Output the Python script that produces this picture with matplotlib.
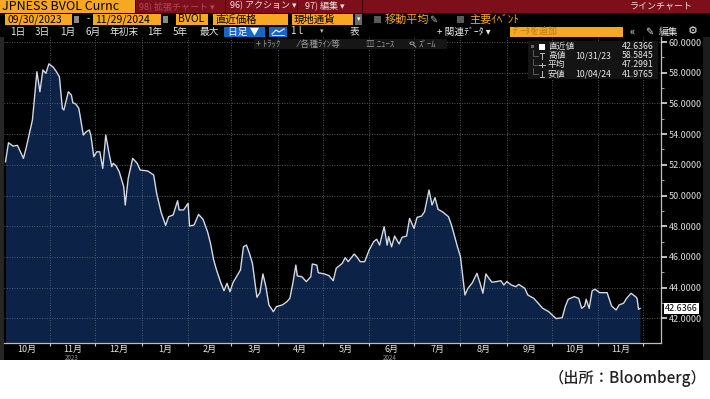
import matplotlib.pyplot as plt
import matplotlib.patches as mpatches
import matplotlib.lines as mlines
import numpy as np
import pandas as pd

plt.rcParams['font.family'] = ['Noto Sans CJK JP', 'DejaVu Sans']

# JPNESS BVOL Curncy, daily close
dates = [
    '2023-10-02', '2023-10-04', '2023-10-07', '2023-10-10', '2023-10-14', '2023-10-16', '2023-10-20',
    '2023-10-23', '2023-10-25', '2023-10-27', '2023-10-29', '2023-10-31', '2023-11-03', '2023-11-05',
    '2023-11-07', '2023-11-09', '2023-11-10', '2023-11-13', '2023-11-15', '2023-11-16', '2023-11-18',
    '2023-11-20', '2023-11-23', '2023-11-25', '2023-11-27', '2023-11-28', '2023-11-30', '2023-12-02',
    '2023-12-04', '2023-12-06', '2023-12-08', '2023-12-10', '2023-12-12', '2023-12-13', '2023-12-15',
    '2023-12-17', '2023-12-20', '2023-12-21', '2023-12-23', '2023-12-26', '2023-12-29', '2023-12-31',
    '2024-01-05', '2024-01-09', '2024-01-11', '2024-01-14', '2024-01-17', '2024-01-19', '2024-01-22',
    '2024-01-25', '2024-01-26', '2024-01-29', '2024-02-01', '2024-02-02', '2024-02-05', '2024-02-08',
    '2024-02-11', '2024-02-14', '2024-02-16', '2024-02-18', '2024-02-20', '2024-02-23', '2024-02-25',
    '2024-02-27', '2024-02-29', '2024-03-02', '2024-03-05', '2024-03-07', '2024-03-09', '2024-03-11',
    '2024-03-13', '2024-03-15', '2024-03-18', '2024-03-20', '2024-03-22', '2024-03-24', '2024-03-26',
    '2024-03-29', '2024-03-31', '2024-04-04', '2024-04-07', '2024-04-09', '2024-04-11', '2024-04-13',
    '2024-04-14', '2024-04-17', '2024-04-20', '2024-04-23', '2024-04-24', '2024-04-27', '2024-04-28',
    '2024-05-02', '2024-05-05', '2024-05-08', '2024-05-10', '2024-05-14', '2024-05-16', '2024-05-18',
    '2024-05-22', '2024-05-24', '2024-05-26', '2024-05-29', '2024-06-01', '2024-06-04', '2024-06-06',
    '2024-06-08', '2024-06-11', '2024-06-13', '2024-06-14', '2024-06-16', '2024-06-18', '2024-06-21',
    '2024-06-23', '2024-06-26', '2024-06-28', '2024-07-01', '2024-07-03', '2024-07-06', '2024-07-08',
    '2024-07-11', '2024-07-13', '2024-07-15', '2024-07-17', '2024-07-20', '2024-07-24', '2024-07-26',
    '2024-07-30', '2024-08-01', '2024-08-04', '2024-08-06', '2024-08-09', '2024-08-12', '2024-08-14',
    '2024-08-16', '2024-08-18', '2024-08-20', '2024-08-22', '2024-08-25', '2024-08-28', '2024-08-30',
    '2024-09-01', '2024-09-04', '2024-09-07', '2024-09-09', '2024-09-13', '2024-09-15', '2024-09-19',
    '2024-09-22', '2024-09-25', '2024-09-29', '2024-10-02', '2024-10-04', '2024-10-08', '2024-10-10',
    '2024-10-12', '2024-10-16', '2024-10-19', '2024-10-21', '2024-10-23', '2024-10-24', '2024-10-26',
    '2024-10-28', '2024-10-30', '2024-11-02', '2024-11-07', '2024-11-10', '2024-11-13', '2024-11-15',
    '2024-11-18', '2024-11-20', '2024-11-23', '2024-11-26', '2024-11-27', '2024-11-28', '2024-11-29',
]
values = [
    52.20, 53.44, 53.22, 53.27, 52.42, 53.18, 54.92,
    58.07, 56.76, 58.18, 57.96, 58.58, 58.35, 58.07,
    57.74, 55.68, 55.57, 56.76, 56.55, 56.05, 55.96,
    55.68, 53.94, 54.16, 54.27, 53.94, 52.53, 52.85,
    52.85, 51.77, 53.94, 52.85, 51.88, 52.10, 51.92,
    51.55, 50.57, 49.38, 51.12, 52.42, 52.10, 51.66,
    51.60, 51.34, 50.14, 48.90, 48.05, 48.62, 48.73,
    49.66, 49.06, 49.06, 49.49, 48.01, 48.08, 48.77,
    48.45, 47.64, 46.88, 45.84, 45.15, 44.28, 43.80,
    44.28, 43.73, 44.32, 44.82, 45.15, 46.66, 46.77,
    46.23, 45.58, 43.37, 43.67, 44.89, 44.06, 42.87,
    42.43, 42.76, 42.87, 43.08, 43.30, 44.28, 45.47,
    44.76, 44.71, 44.39, 44.71, 45.54, 45.47, 44.97,
    44.89, 44.79, 44.45, 45.26, 45.58, 45.95, 45.69,
    46.19, 45.97, 45.69, 45.69, 46.45, 46.99, 47.15,
    46.77, 47.97, 46.77, 47.32, 46.66, 47.36, 46.84,
    47.28, 47.36, 48.51, 47.86, 48.58, 48.66, 48.94,
    50.36, 49.38, 49.86, 49.10, 48.94, 48.62, 48.08,
    46.66, 46.01, 43.52, 43.95, 44.32, 44.93, 44.32,
    43.63, 44.89, 44.61, 44.35, 44.39, 44.45, 44.17,
    44.39, 44.17, 44.06, 44.21, 43.95, 43.52, 43.30,
    42.98, 42.65, 42.43, 42.15, 41.98, 42.04, 42.76,
    43.24, 43.41, 43.30, 42.65, 42.80, 43.24, 42.65,
    43.80, 43.89, 43.67, 43.67, 42.80, 42.54, 42.87,
    42.98, 43.30, 43.63, 43.41, 43.30, 42.59, 42.64,
]

month_labels = ['10月', '11月', '12月', '1月', '2月', '3月', '4月', '5月',
                '6月', '7月', '8月', '9月', '10月', '11月']
year_labels = ['2023', '2024']
year_dates = ['2023-11-15', '2024-06-15']
yticks = np.arange(42, 61, 2)

legend_names = ['直近値', '高値', '平均', '安値']
legend_dates = ['', '10/31/23', '', '10/04/24']
legend_values = ['42.6366', '58.5845', '47.2991', '41.9765']
last_label = '42.6366'

W, H = 710, 399
ORANGE = '#f7a823'
RED = '#7c0f1a'

fig = plt.figure(figsize=(7.1, 3.99), dpi=100, facecolor='white')


def box(x0, y0, x1, y1, color, z=0):
    fig.add_artist(mpatches.Rectangle((x0 / W, 1 - y1 / H), (x1 - x0) / W, (y1 - y0) / H,
                                      transform=fig.transFigure, facecolor=color,
                                      edgecolor='none', zorder=z))


def seg(xs, ys, color, lw=0.8, z=6):
    fig.add_artist(mlines.Line2D([v / W for v in xs], [1 - v / H for v in ys],
                                 transform=fig.transFigure, color=color, lw=lw, zorder=z))


def label(x, y, s, color='#e6e6e6', size=7.5, ha='left', **kw):
    fig.text(x / W, 1 - y / H, s, color=color, fontsize=size, ha=ha, va='center', **kw)


# terminal background
box(0, 0, 710, 360, 'black')
box(0, 37, 4, 360, '#262626')
box(703, 37, 710, 360, '#1c1c1c')

# row 1: ticker and red menu bar
box(0, 0, 135, 12.5, ORANGE)
label(2, 6, 'JPNESS BVOL Curnc', color='black', size=9)
box(136, 0, 710, 12.5, RED)
for xs in [225, 297, 362]:
    box(xs, 0, xs + 1.2, 12.5, '#3a0308')
label(139, 6, '98) 拡張チャート ▾', color='#b04a5c', size=6.5)
label(230, 6, '96) アクション ▾', color='#f0e0e0', size=6.5)
label(305, 6, '97) 編集 ▾', color='#f0e0e0', size=6.5)
label(693, 6, 'ラインチャート', color='#f0e0e0', size=6.5, ha='right')

# row 2: date range and fields
for x0, x1, s in [(5, 72, '09/30/2023'), (93, 161, '11/29/2024'), (176, 208, 'BVOL'),
                  (213, 288, '直近価格'), (292, 353, '現地通貨')]:
    box(x0, 14, x1, 25, ORANGE)
    label(x0 + 2, 19.5, s, color='black', size=7.5)
box(74, 16, 79, 23, '#8a8a8a')
box(163, 16, 168, 23, '#8a8a8a')
label(87, 19.5, '-', color='#cccccc', size=7)
box(355, 14, 362, 25, '#6a6a6a')
label(358.5, 19.5, '▾', color='white', size=5, ha='center')
box(374, 16, 381, 23, '#5a5a5a')
label(385, 19.5, '移動平均', color=ORANGE, size=8)
label(429, 19.5, '✎', color='#bbbbbb', size=7)
box(457, 16, 464, 23, '#5a5a5a')
label(469, 19.5, '主要ｲﾍﾞﾝﾄ', color=ORANGE, size=8)

# row 3: period buttons and tools
for x, s in [(10, '1日'), (35, '3日'), (60, '1月'), (85, '6月'), (110, '年初末'),
             (147, '1年'), (173, '5年'), (200, '最大')]:
    label(x, 31.5, s, size=7)
box(224, 26.5, 265, 36.5, '#1767c4')
label(228, 31.5, '日足 ▼', color='white', size=7)
box(269, 26.5, 287, 36.5, '#1767c4')
seg([272, 276, 279, 284], [34, 30, 32, 29], 'white', lw=0.8)
seg([272, 284], [35, 35], 'white', lw=0.6)
label(290, 31.5, '1ｌ', size=7)
label(320, 31.5, '▾', color='#bbbbbb', size=5)
label(350, 31.5, '表', size=7)
label(437, 31.5, '+ 関連ﾃﾞｰﾀ ▾', size=7)
box(510, 26.5, 623, 36.5, ORANGE)
label(513, 31.5, 'ﾃﾞｰﾀを追加', color='#b87a10', size=6.5)
label(630, 31.5, '«', size=8)
label(645, 31.5, '✎', size=7)
label(659, 31.5, '編集', size=7)
label(688, 31.5, '⚙', size=8)

# row 4: chart tool strip
box(254, 39, 447, 49, '#161616', z=5)
label(256, 44, '+ ﾄﾗｯｸ', color='#9a9a9a', size=6.3, zorder=6)
label(298, 44, '⁄ 各種ﾗｲﾝ等', color='#9a9a9a', size=6.3, zorder=6)
label(366, 44, '▥ ﾆｭｰｽ', color='#9a9a9a', size=6.3, zorder=6)
fig.add_artist(mpatches.Circle((412 / W, 1 - 43.3 / H), 2.2 / W, transform=fig.transFigure,
                               fill=False, edgecolor='#9a9a9a', lw=0.7, zorder=6))
seg([413.6, 415.5], [45, 47], '#9a9a9a', lw=0.8)
label(419, 44, 'ｽﾞｰﾑ', color='#9a9a9a', size=6.3, zorder=6)

# main chart
x = pd.to_datetime(dates)
ax = fig.add_axes([4 / W, 1 - 343 / H, 657 / W, 306 / H])
ax.set_facecolor('black')
ymin, ymax = 40.39, 60.33
ax.fill_between(x, values, ymin, color='#0c2347', lw=0, zorder=1)
ax.plot(x, values, color='#d3dae3', lw=1.0, zorder=3)
ax.set_xlim(pd.Timestamp('2023-10-01'), pd.Timestamp('2024-12-13'))
ax.set_ylim(ymin, ymax)

months = pd.date_range('2023-10-01', '2024-12-01', freq='MS')
mids = months[:-1] + (months[1:] - months[:-1]) / 2
ax.set_xticks(months[1:])
ax.set_xticklabels([])
ax.set_xticks(mids, minor=True)
ax.set_xticklabels(month_labels, minor=True)
ax.tick_params(axis='x', which='major', length=2, color='#cfcfcf', direction='out')
ax.tick_params(axis='x', which='minor', length=0, pad=1.5, labelsize=6.5, labelcolor='#e6e6e6')

ax.yaxis.tick_right()
ax.set_yticks(yticks)
ax.set_yticklabels([f'{v:.4f}' for v in yticks])
ax.set_yticks(yticks[:-1] + 1, minor=True)
ax.tick_params(axis='y', which='major', length=4, width=1.2, color='#e0e0e0', pad=1.5,
               labelsize=6.5, labelcolor='#dedede')
ax.tick_params(axis='y', which='minor', length=2, color='#bdbdbd')

for side in ['top', 'left']:
    ax.spines[side].set_visible(False)
for side in ['right', 'bottom']:
    ax.spines[side].set_color('#bdbdbd')
    ax.spines[side].set_linewidth(0.9)

ax.set_axisbelow(False)
ax.grid(True, which='major', color='#6b7078', linestyle=(0, (1, 2)), lw=0.6)

for s, d in zip(year_labels, year_dates):
    ax.text(pd.Timestamp(d), -0.05, s, transform=ax.get_xaxis_transform(), ha='center',
            va='center', fontsize=4.5, color='#9a9a9a')

ax.annotate(last_label, xy=(1, values[-1]), xycoords=ax.get_yaxis_transform(),
            xytext=(3, 0), textcoords='offset points', ha='left', va='center',
            fontsize=6.5, color='black', annotation_clip=False,
            bbox=dict(boxstyle='square,pad=0.12', fc='white', ec='none'))

# legend panel
box(528, 41, 658, 79, '#141414', z=5)
for i, (n, d, v) in enumerate(zip(legend_names, legend_dates, legend_values)):
    yy = 46.5 + i * 9.2
    if i == 0:
        box(539, yy - 3, 545, yy + 3, 'white', z=6)
        box(531, yy - 1.5, 534, yy + 1.5, '#666666', z=6)
    else:
        seg([533, 533, 538], [yy - 6, yy, yy], '#666666', lw=0.6)
        if i == 2:
            seg([539, 545], [yy, yy], '#bbbbbb', lw=0.7)
            seg([542, 542], [yy - 2, yy + 2], '#bbbbbb', lw=0.7)
        else:
            seg([542, 542], [yy - 3, yy + 3], '#bbbbbb', lw=0.7)
            seg([540, 544], [yy - 3 if i == 1 else yy + 3] * 2, '#bbbbbb', lw=0.7)
    label(548, yy, n, size=6.3, zorder=6)
    if d:
        label(575, yy, d, size=6.3, zorder=6)
    label(654, yy, v, size=6.3, ha='right', zorder=6)

# source note
label(706, 378, '（出所：Bloomberg）', color='#222222', size=11, ha='right', fontweight='medium')

fig.savefig('out.png', dpi=100, facecolor='white')
